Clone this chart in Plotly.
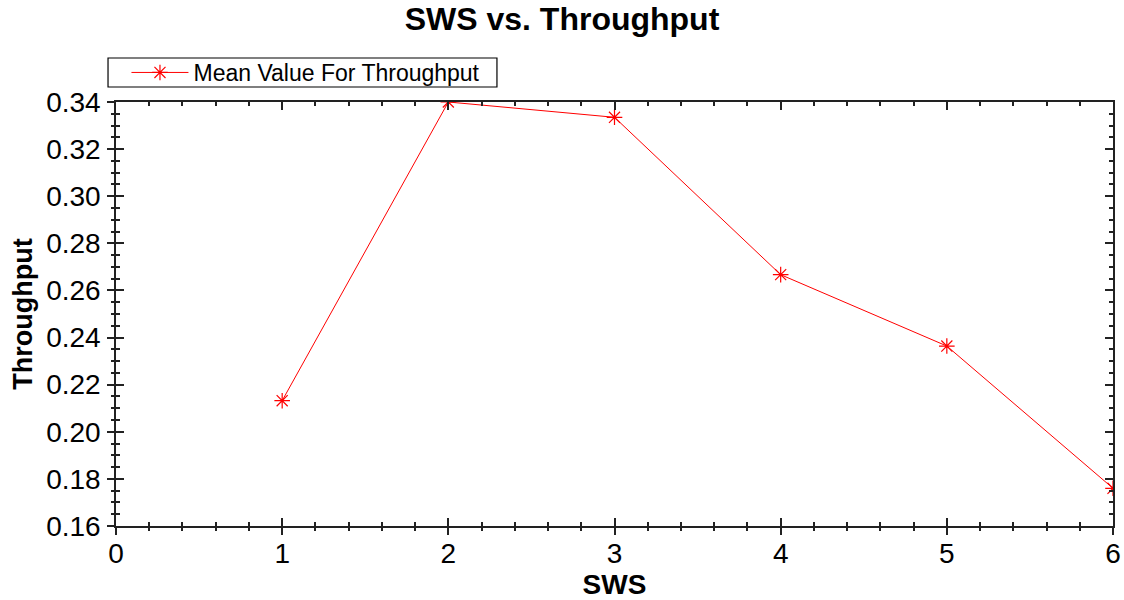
import plotly.graph_objects as go

# SWS setting vs. mean throughput
sws = [1, 2, 3, 4, 5, 6]
throughput = [0.2132, 0.3400, 0.3335, 0.2667, 0.2364, 0.1760]

FONT = "Arial, Liberation Sans, sans-serif"
AXIS_COLOR = "#222222"

fig = go.Figure()

fig.add_trace(go.Scatter(
    x=sws, y=throughput,
    mode="lines+markers",
    name="Mean Value For Throughput",
    line=dict(color="#ff0000", width=1),
    marker=dict(symbol="asterisk-open", size=13, color="#ff0000",
                line=dict(color="#ff0000", width=1.2)),
))

# Empty trace that carries the overlay axes (outer half of the crossing ticks)
fig.add_trace(go.Scatter(x=[], y=[], xaxis="x2", yaxis="y2",
                         showlegend=False, hoverinfo="skip"))

xr = [0, 6]
yr = [0.16, 0.34]

fig.update_layout(
    width=1124, height=600,
    paper_bgcolor="white", plot_bgcolor="white",
    margin=dict(l=116, r=11, t=102, b=74, autoexpand=False),
    font=dict(family=FONT, color="black"),
    title=dict(text="<b>SWS vs. Throughput</b>", x=0.5, xanchor="center",
               y=0.968, yanchor="middle",
               font=dict(size=32, family=FONT, color="black")),
    showlegend=True,
    legend=dict(x=0.0105, y=1.0696, xanchor="left", yanchor="middle",
                borderwidth=0, bgcolor="rgba(0,0,0,0)",
                font=dict(size=23, family=FONT, color="black"),
                itemwidth=57, tracegroupgap=0),
    # frame around the legend entry
    shapes=[dict(type="rect", xref="paper", yref="paper",
                 x0=-0.0080, x1=0.3821, y0=1.0354, y1=1.1038,
                 line=dict(color="black", width=1.2), fillcolor="rgba(0,0,0,0)",
                 layer="below")],
    xaxis=dict(
        range=xr, dtick=1, tick0=0, automargin=False,
        showgrid=False, zeroline=False,
        showline=True, linecolor=AXIS_COLOR, linewidth=1.5,
        mirror="ticks", ticks="inside", ticklen=8, tickwidth=1.5,
        tickcolor=AXIS_COLOR,
        minor=dict(dtick=0.2, ticks="inside", ticklen=4, tickwidth=1.5,
                   tickcolor=AXIS_COLOR, showgrid=False),
        tickfont=dict(size=28, family=FONT, color="black"),
        ticklabelstandoff=2,
        title=dict(text="<b>SWS</b>", font=dict(size=28, family=FONT, color="black"),
                   standoff=6),
    ),
    yaxis=dict(
        range=yr, dtick=0.02, tick0=0.16, tickformat=".2f", automargin=False,
        showgrid=False, zeroline=False,
        showline=True, linecolor=AXIS_COLOR, linewidth=1.5,
        mirror="ticks", ticks="inside", ticklen=8, tickwidth=1.5,
        tickcolor=AXIS_COLOR,
        minor=dict(dtick=0.005, ticks="inside", ticklen=4, tickwidth=1.5,
                   tickcolor=AXIS_COLOR, showgrid=False),
        tickfont=dict(size=28, family=FONT, color="black"),
        ticklabelstandoff=8,
        title=dict(text="<b>Throughput</b>", font=dict(size=27, family=FONT, color="black"),
                   standoff=6),
    ),
    xaxis2=dict(
        range=xr, dtick=1, tick0=0, overlaying="x", anchor="y2", side="bottom",
        showgrid=False, zeroline=False, showline=False, showticklabels=False,
        automargin=False,
        ticks="outside", ticklen=8, tickwidth=1.5, tickcolor=AXIS_COLOR,
        minor=dict(dtick=0.2, ticks="outside", ticklen=4, tickwidth=1.5,
                   tickcolor=AXIS_COLOR, showgrid=False),
    ),
    yaxis2=dict(
        range=yr, dtick=0.02, tick0=0.16, overlaying="y", anchor="x2", side="left",
        showgrid=False, zeroline=False, showline=False, showticklabels=False,
        automargin=False,
        ticks="outside", ticklen=8, tickwidth=1.5, tickcolor=AXIS_COLOR,
        minor=dict(dtick=0.005, ticks="outside", ticklen=4, tickwidth=1.5,
                   tickcolor=AXIS_COLOR, showgrid=False),
    ),
)

fig.write_html("out.html")
